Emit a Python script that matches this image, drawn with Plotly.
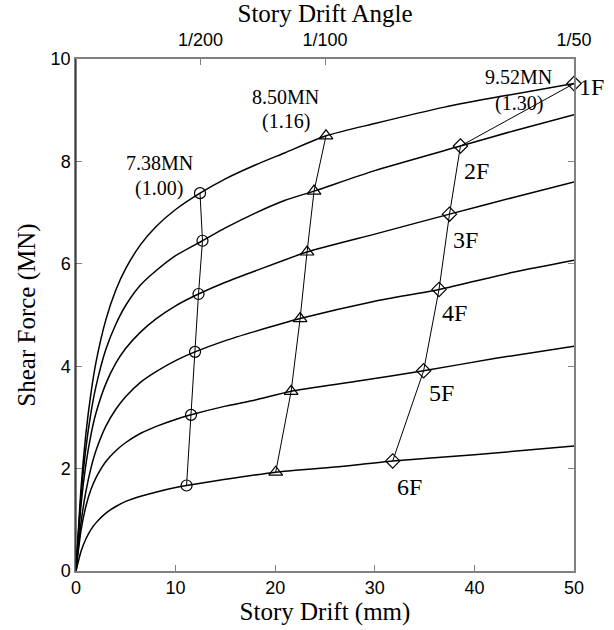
import plotly.graph_objects as go

# ---- data ----
floors = ["1F", "2F", "3F", "4F", "5F", "6F"]

drift_1F = [0, 0.5, 1, 1.5, 2, 3, 4, 5, 6.5, 8, 10, 12.45, 15, 18, 21, 25.1, 30, 37, 43, 50]
force_1F = [0, 1.60, 2.69, 3.47, 4.07, 4.91, 5.49, 5.91, 6.38, 6.72, 7.06, 7.38, 7.66,
            7.93, 8.17, 8.50, 8.74, 9.06, 9.28, 9.52]

drift_2F = [0, 0.5, 1, 1.5, 2, 3, 4, 5, 6.5, 8, 10, 12.7, 15, 18, 21, 23.9, 30, 38.6, 44, 50]
force_2F = [0, 1.45, 2.41, 3.09, 3.60, 4.33, 4.82, 5.19, 5.59, 5.86, 6.16, 6.45, 6.70,
            6.99, 7.24, 7.42, 7.82, 8.30, 8.60, 8.91]

drift_3F = [0, 0.5, 1, 1.5, 2, 3, 4, 5, 6.5, 8, 10, 12.3, 15, 18, 23.2, 30, 37.5, 44, 50]
force_3F = [0, 1.28, 2.09, 2.66, 3.08, 3.66, 4.06, 4.35, 4.67, 4.92, 5.18, 5.41, 5.64,
            5.86, 6.23, 6.58, 6.97, 7.30, 7.60]

drift_4F = [0, 0.5, 1, 1.5, 2, 3, 4, 5, 6.5, 8, 10, 11.95, 15, 18, 22.5, 30, 36.45, 44, 50]
force_4F = [0, 0.94, 1.56, 2.01, 2.35, 2.83, 3.16, 3.41, 3.69, 3.89, 4.11, 4.28, 4.50,
            4.68, 4.93, 5.27, 5.50, 5.84, 6.07]

drift_5F = [0, 0.5, 1, 1.5, 2, 3, 4, 5, 6.5, 8, 10, 11.55, 15, 18, 21.6, 28, 34.9, 42, 50]
force_5F = [0, 0.79, 1.27, 1.59, 1.82, 2.14, 2.35, 2.51, 2.69, 2.82, 2.96, 3.05, 3.22,
            3.34, 3.51, 3.70, 3.91, 4.15, 4.39]

drift_6F = [0, 0.5, 1, 1.5, 2, 3, 4, 5, 6.5, 8, 10, 11.1, 15, 20.05, 26, 31.8, 40, 50]
force_6F = [0, 0.38, 0.63, 0.81, 0.94, 1.13, 1.26, 1.36, 1.46, 1.54, 1.63, 1.67, 1.79,
            1.93, 2.03, 2.15, 2.27, 2.44]

# points at the three drift-angle levels (1F..6F)
circle_x = [12.45, 12.7, 12.3, 11.95, 11.55, 11.1]
circle_y = [7.38, 6.45, 5.41, 4.28, 3.05, 1.67]
triangle_x = [25.1, 23.9, 23.2, 22.5, 21.6, 20.05]
triangle_y = [8.50, 7.42, 6.23, 4.93, 3.51, 1.93]
diamond_x = [50.0, 38.6, 37.5, 36.45, 34.9, 31.8]
diamond_y = [9.52, 8.30, 6.97, 5.50, 3.91, 2.15]

x_ticks = [0, 10, 20, 30, 40, 50]
y_ticks = [0, 2, 4, 6, 8, 10]
angle_tick_vals = [12.5, 25, 50]
angle_tick_text = ["1/200", "1/100", "1/50"]

SERIF = "Liberation Serif, Times New Roman, serif"
SANS = "Liberation Sans, Arial, sans-serif"
GRAY = "#808080"

fig = go.Figure()

curves = [(drift_1F, force_1F), (drift_2F, force_2F), (drift_3F, force_3F),
          (drift_4F, force_4F), (drift_5F, force_5F), (drift_6F, force_6F)]
for (dx, fy), name in zip(curves, floors):
    fig.add_trace(go.Scatter(x=dx, y=fy, mode="lines", name=name,
                             line=dict(color="black", width=1.5, shape="spline", smoothing=0.6),
                             showlegend=False, hoverinfo="skip"))

for xs, ys, sym, sz in [(circle_x, circle_y, "circle-open", 11),
                        (triangle_x, triangle_y, "triangle-up-open", 12),
                        (diamond_x, diamond_y, "diamond-open", 11)]:
    fig.add_trace(go.Scatter(x=xs, y=ys, mode="lines+markers",
                             line=dict(color="black", width=1),
                             marker=dict(symbol=sym, size=sz, color="black",
                                         line=dict(color="black", width=1.2)),
                             showlegend=False, cliponaxis=False))

# invisible trace for the top axis
fig.add_trace(go.Scatter(x=[0, 50], y=[0, 0], xaxis="x2", mode="markers",
                         marker=dict(opacity=0), showlegend=False, hoverinfo="skip"))

ann = []
def txt(x, y, t, size, xshift=0):
    ann.append(dict(x=x, y=y, xref="x", yref="y", text=t, showarrow=False, xshift=xshift,
                    font=dict(family=SERIF, size=size, color="black")))

txt(8.36, 7.96, "7.38MN", 20)
txt(8.36, 7.47, "(1.00)", 20)
txt(21.08, 9.26, "8.50MN", 20)
txt(21.08, 8.78, "(1.16)", 20)
txt(44.4, 9.65, "9.52MN", 20)
txt(44.5, 9.13, "(1.30)", 20)
txt(50, 9.46, "1F", 24, xshift=17)
floor_pos = [(40.2, 7.81), (39.06, 6.46), (38.05, 5.03), (36.7, 3.47), (33.5, 1.65)]
for (px, py), name in zip(floor_pos, floors[1:]):
    txt(px, py, name, 24)

fig.update_layout(
    width=614, height=630,
    margin=dict(l=76, r=40, t=59, b=59),
    paper_bgcolor="white", plot_bgcolor="white",
    annotations=ann,
    shapes=[dict(type="line", xref="paper", yref="paper", x0=0, x1=0, y0=0, y1=1,
                 line=dict(color="black", width=1))],
    xaxis=dict(range=[0, 50], tickvals=x_ticks, ticks="inside", ticklen=6,
               tickcolor=GRAY, tickwidth=1, showline=True, linecolor=GRAY, linewidth=1.5,
               showgrid=False, zeroline=False,
               tickfont=dict(family=SANS, size=18, color="black"),
               title=dict(text="Story Drift (mm)", font=dict(family=SERIF, size=25, color="black"),
                          standoff=2)),
    xaxis2=dict(range=[0, 50], overlaying="x", side="top", tickvals=angle_tick_vals,
                ticktext=angle_tick_text, ticks="inside", ticklen=6, tickcolor=GRAY,
                showline=True, linecolor=GRAY, linewidth=1.5, showgrid=False, zeroline=False,
                ticklabelstandoff=4,
                tickfont=dict(family=SANS, size=18, color="black"),
                title=dict(text="Story Drift Angle", font=dict(family=SERIF, size=25, color="black"),
                           standoff=2)),
    yaxis=dict(range=[0, 10], tickvals=y_ticks, ticks="inside", ticklen=6, tickcolor=GRAY,
               showline=True, linecolor=GRAY, linewidth=1.5, mirror="ticks",
               showgrid=False, zeroline=False,
               tickfont=dict(family=SANS, size=18, color="black"),
               title=dict(text="Shear Force (MN)", font=dict(family=SERIF, size=25, color="black"),
                          standoff=8)),
)

fig.write_html("out.html")
